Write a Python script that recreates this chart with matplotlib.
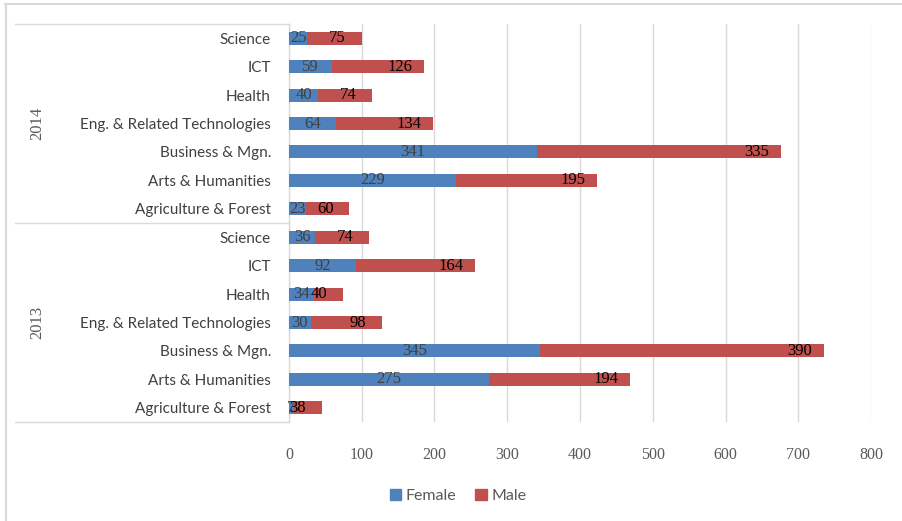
import matplotlib
matplotlib.use("Agg")
import matplotlib.pyplot as plt
from matplotlib.lines import Line2D
from matplotlib.patches import Patch

# ---- data (bottom to top as drawn) ----
years = ["2013", "2014"]
subjects = ["Agriculture & Forest", "Arts & Humanities", "Business & Mgn.",
            "Eng. & Related Technologies", "Health", "ICT", "Science"]
female_2013 = [7, 275, 345, 30, 34, 92, 36]
male_2013 = [38, 194, 390, 98, 40, 164, 74]
female_2014 = [23, 229, 341, 64, 40, 59, 25]
male_2014 = [60, 195, 335, 134, 74, 126, 75]
x_ticks = [0, 100, 200, 300, 400, 500, 600, 700, 800]
series_names = ["Female", "Male"]

female = female_2013 + female_2014
male = male_2013 + male_2014
labels = subjects + subjects

W, H = 903, 521
fig = plt.figure(figsize=(W / 100, H / 100), dpi=100)

SANS = ["Lato", "DejaVu Sans"]
SERIF = ["Liberation Serif", "DejaVu Serif"]
BLUE = "#4F81BD"
RED = "#C0504D"
GRID = "#D9D9D9"

x0, x1, ytop, ybot = 289, 871, 24, 422
ax = fig.add_axes([x0 / W, 1 - ybot / H, (x1 - x0) / W, (ybot - ytop) / H])

pos = list(range(len(labels)))
bh = 0.46
ax.barh(pos, female, height=bh, color=BLUE, zorder=3)
ax.barh(pos, male, left=female, height=bh, color=RED, zorder=3)

for y, f, m in zip(pos, female, male):
    ax.annotate(str(f), xy=(f / 2, y), ha="center", va="center",
                fontsize=12, family=SERIF, color="#404040", zorder=4)
    ax.annotate(str(m), xy=(f + m, y), xytext=(-24, 0), textcoords="offset pixels",
                ha="center", va="center", fontsize=12, family=SERIF,
                color="black", zorder=4)

ax.set_xlim(0, 800)
ax.set_ylim(-0.5, len(labels) - 0.5)
ax.set_xticks(x_ticks)
ax.set_xticklabels([str(t) for t in x_ticks], family=SERIF, fontsize=11.5, color="#595959")
ax.set_yticks(pos)
ax.set_yticklabels(labels, family=SANS, fontsize=11, color="#404040")
ax.tick_params(axis="y", length=0, pad=13)
ax.tick_params(axis="x", length=0, pad=18)
ax.grid(axis="x", color=GRID, linewidth=1, zorder=0)
for s in ["top", "right", "bottom"]:
    ax.spines[s].set_visible(False)
ax.spines["left"].set_color(GRID)
ax.spines["left"].set_linewidth(1)

# category group separators and year labels
for ypx in (ytop, (ytop + ybot) / 2, ybot):
    fig.add_artist(Line2D([15 / W, x0 / W], [1 - ypx / H, 1 - ypx / H],
                          color=GRID, linewidth=1))
n = len(subjects)
for i, yr in enumerate(years):
    yc = ax.transData.transform((0, i * n + (n - 1) / 2))[1] / H
    fig.text(37 / W, yc, yr, rotation=90, ha="center", va="center",
             family=SERIF, fontsize=12, color="#595959")

# outer frame (top + left visible)
fig.add_artist(Line2D([5 / W, 1], [1 - 3.5 / H, 1 - 3.5 / H], color="#D9D9D9", linewidth=1.5))
fig.add_artist(Line2D([5.5 / W, 5.5 / W], [0, 1 - 3.5 / H], color="#D9D9D9", linewidth=1.5))

handles = [Patch(color=BLUE), Patch(color=RED)]
fig.legend(handles, series_names, loc="center", bbox_to_anchor=(458 / W, 1 - 496 / H),
           ncol=2, frameon=False, handlelength=0.7, handleheight=0.7,
           handletextpad=0.3, columnspacing=1.2,
           prop={"family": SANS, "size": 11.5}, labelcolor="#595959")

fig.savefig("out.png", dpi=100)
